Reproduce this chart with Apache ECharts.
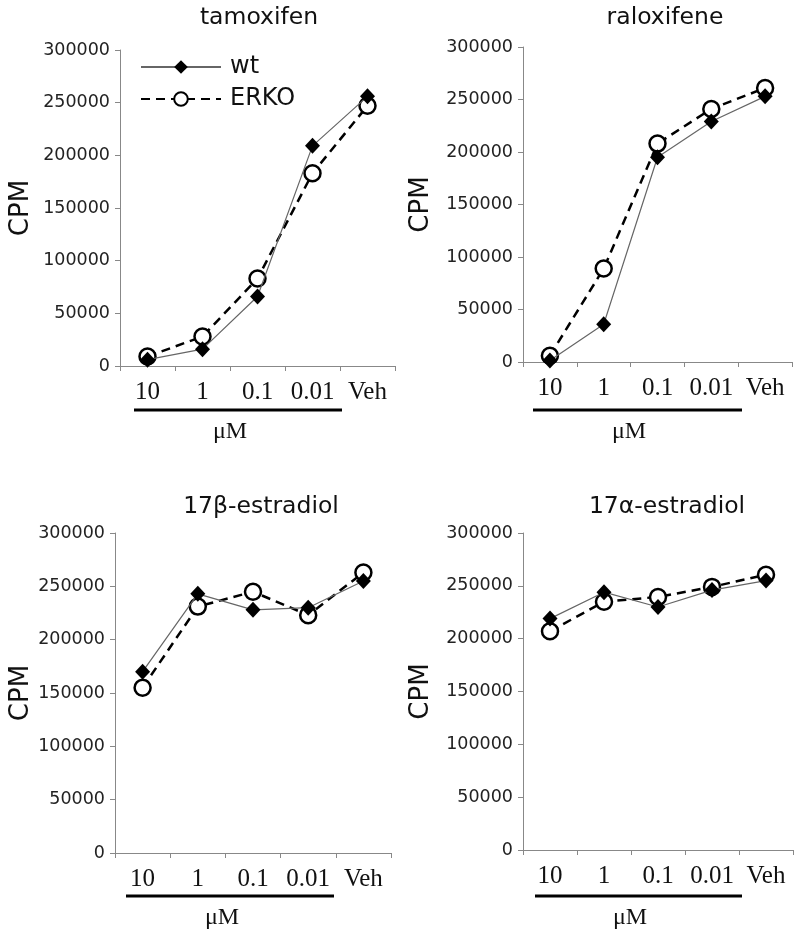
<!DOCTYPE html>
<html>
<head>
<meta charset="utf-8">
<script src="https://cdn.jsdelivr.net/npm/echarts@6/dist/echarts.min.js"></script>
<style>html,body{margin:0;padding:0;background:#fff}#c{width:800px;height:935px}</style>
</head>
<body>
<div id="c"></div>
<script>
const categories = ['10', '1', '0.1', '0.01', 'Veh'];
const yTicks = [0, 50000, 100000, 150000, 200000, 250000, 300000];
const panelTitles = ['tamoxifen', 'raloxifene', '17\u03b2-estradiol', '17\u03b1-estradiol'];
const seriesNames = ['wt', 'ERKO'];

const tamoxifenWt = [6000, 16000, 66000, 209000, 256000];
const tamoxifenErko = [9000, 28000, 83000, 183000, 247000];
const raloxifeneWt = [1500, 36000, 195000, 229000, 253000];
const raloxifeneErko = [6000, 89000, 208000, 241000, 261000];
const betaWt = [170000, 243000, 228000, 230000, 255000];
const betaErko = [155000, 231000, 245000, 223000, 263000];
const alphaWt = [219000, 244000, 230000, 246000, 255000];
const alphaErko = [207000, 235000, 239500, 249000, 260500];

const wtData = [tamoxifenWt, raloxifeneWt, betaWt, alphaWt];
const erkoData = [tamoxifenErko, raloxifeneErko, betaErko, alphaErko];

const grids = [
  {left: 120, top: 50, width: 275, height: 316},
  {left: 523, top: 47, width: 269, height: 315},
  {left: 115, top: 533, width: 276, height: 320},
  {left: 523, top: 533, width: 270, height: 317}
];
const nameGaps = [86, 89, 81, 89];
const titlePos = [[259, 6], [665, 6], [261, 495], [667, 495]];
const underline = [[134, 342, 410], [533, 742, 410], [126, 334, 896], [535, 742, 896]];
const umPos = [[230, 432], [629, 432], [222, 918], [630, 918]];

const sans = 'DejaVu Sans';
const serif = 'Liberation Serif';

const option = {
  backgroundColor: '#fff',
  animation: false,
  title: panelTitles.map((t, i) => ({
    text: t, left: titlePos[i][0], top: titlePos[i][1], textAlign: 'center', padding: 0,
    textStyle: {fontFamily: sans, fontSize: 23.5, fontWeight: 'normal', color: '#111'}
  })),
  legend: {
    data: seriesNames, orient: 'vertical', left: 140, top: 55, padding: 0,
    itemWidth: 80, itemHeight: 17, itemGap: 8,
    textStyle: {fontFamily: sans, fontSize: 24, color: '#111', padding: [0, 0, 0, 4]}
  },
  grid: grids.map(g => Object.assign({containLabel: false}, g)),
  xAxis: grids.map((g, i) => ({
    type: 'category', gridIndex: i, data: categories, boundaryGap: true,
    axisLine: {lineStyle: {color: '#888', width: 1}},
    axisTick: {show: true, length: 5, lineStyle: {color: '#888'}},
    axisLabel: {interval: 0, margin: 14, fontFamily: serif, fontSize: 25, color: '#111'},
    splitLine: {show: false}
  })),
  yAxis: grids.map((g, i) => ({
    type: 'value', gridIndex: i, min: yTicks[0], max: yTicks[yTicks.length - 1], interval: yTicks[1] - yTicks[0],
    name: 'CPM', nameLocation: 'middle', nameGap: nameGaps[i], nameRotate: 90,
    nameTextStyle: {fontFamily: sans, fontSize: 26, color: '#111'},
    axisLine: {show: true, lineStyle: {color: '#888', width: 1}},
    axisTick: {show: true, length: 5, lineStyle: {color: '#888'}},
    axisLabel: {margin: 10, fontFamily: sans, fontSize: 17.5, color: '#222', formatter: v => String(v)},
    splitLine: {show: false}
  })),
  series: [].concat(
    erkoData.map((d, i) => ({
      name: 'ERKO', type: 'line', xAxisIndex: i, yAxisIndex: i, data: d, z: 2,
      symbol: 'circle', symbolSize: 16,
      itemStyle: {color: '#fff', borderColor: '#000', borderWidth: 2.5},
      lineStyle: {color: '#000', width: 2.5, type: [9, 6]}
    })),
    wtData.map((d, i) => ({
      name: 'wt', type: 'line', xAxisIndex: i, yAxisIndex: i, data: d, z: 3,
      symbol: 'diamond', symbolSize: [15, 16],
      itemStyle: {color: '#000'},
      lineStyle: {color: '#666', width: 1.2}
    }))
  ),
  graphic: [].concat(
    underline.map(u => ({
      type: 'line', shape: {x1: u[0], y1: u[2], x2: u[1], y2: u[2]},
      style: {stroke: '#000', lineWidth: 3}
    })),
    umPos.map(p => ({
      type: 'text', x: p[0], y: p[1],
      style: {text: '\u03bcM', font: '24px "Liberation Serif"', fill: '#111', align: 'center', verticalAlign: 'middle'}
    }))
  )
};

const chart = echarts.init(document.getElementById('c'), null, {renderer: 'canvas'});
chart.setOption(option);
</script>
</body>
</html>
